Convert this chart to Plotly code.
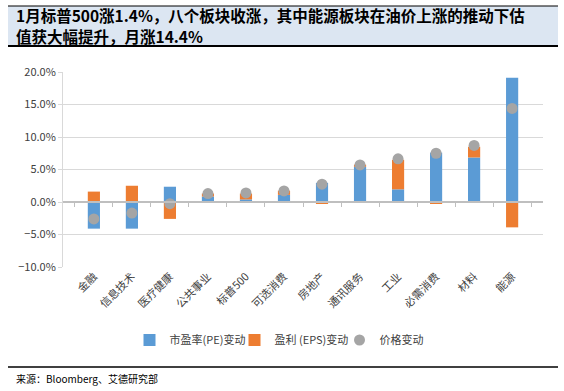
import plotly.graph_objects as go

categories = ["金融", "信息技术", "医疗健康", "公共事业", "标普500", "可选消费",
              "房地产", "通讯服务", "工业", "必需消费", "材料", "能源"]
pe_change = [-4.1, -4.1, 2.35, 0.85, 0.4, 1.1, 2.95, 5.4, 1.95, 7.6, 6.85, 19.1]
eps_change = [1.6, 2.5, -2.6, 0.45, 0.9, 0.65, -0.25, 0.35, 4.55, -0.25, 1.65, -3.9]
price_change = [-2.6, -1.7, -0.25, 1.3, 1.4, 1.7, 2.75, 5.7, 6.65, 7.5, 8.7, 14.4]

title_line1 = "1月标普500涨1.4%，八个板块收涨，其中能源板块在油价上涨的推动下估"
title_line2 = "值获大幅提升，月涨14.4%"
source_text = "来源：Bloomberg、艾德研究部"

BLUE = "#5B9BD5"
ORANGE = "#ED7D31"
GRAY = "#A5A5A5"
FONT = "Noto Sans CJK SC"

fig = go.Figure()
fig.add_trace(go.Bar(x=categories, y=pe_change, name="市盈率(PE)变动",
                     marker=dict(color=BLUE, line=dict(width=0)), width=0.32))
fig.add_trace(go.Bar(x=categories, y=eps_change, name="盈利 (EPS)变动",
                     marker=dict(color=ORANGE, line=dict(width=0)), width=0.32))
fig.add_trace(go.Scatter(x=categories, y=price_change, name="价格变动", mode="markers",
                         marker=dict(color=GRAY, size=11, line=dict(width=0))))
# helper trace for the category-boundary axis at zero
fig.add_trace(go.Scatter(x=categories, y=[None] * len(categories), xaxis="x2", yaxis="y",
                         showlegend=False, hoverinfo="skip", mode="markers"))

ymin, ymax = -10, 20
PH = 195.0  # plot height in px
PW = 480.0  # plot width in px
fig.update_layout(
    width=564, height=391,
    margin=dict(l=63, r=21, t=72, b=124, autoexpand=False),
    barmode="relative",
    plot_bgcolor="white", paper_bgcolor="white",
    font=dict(family=FONT, size=11, color="#404040"),
    showlegend=True,
    legend=dict(orientation="h", x=224/PW, xanchor="center", y=-73/PH, yanchor="middle",
                font=dict(size=11, color="#404040"), itemwidth=30, tracegroupgap=0,
                entrywidth=60, entrywidthmode="pixels",
                bgcolor="rgba(0,0,0,0)"),
    xaxis=dict(type="category", tickangle=-45, showline=False, ticks="",
               tickfont=dict(size=11, color="#404040"), showgrid=False),
    xaxis2=dict(type="category", overlaying="x", anchor="free",
                position=(0 - ymin) / (ymax - ymin), showline=True, linecolor="#BFBFBF",
                linewidth=1.5, ticks="outside", ticklen=4, tickcolor="#BFBFBF",
                tickson="boundaries", showticklabels=False, showgrid=False,
                matches="x"),
    yaxis=dict(range=[ymin, ymax], dtick=5, ticksuffix="%", tickformat=".1f",
               showline=True, linecolor="#D9D9D9", ticks="outside", ticklen=4,
               tickcolor="#D9D9D9", gridcolor="#D9D9D9", zeroline=False,
               tickfont=dict(size=11, color="#404040")),
)

# title band
fig.add_shape(type="rect", xref="paper", yref="paper",
              x0=-55/PW, x1=495/PW, y0=1 + 26/PH, y1=1 + 66/PH,
              fillcolor="#DCE6F2", line=dict(width=0), layer="below")
fig.add_shape(type="line", xref="paper", yref="paper",
              x0=-55/PW, x1=495/PW, y0=1 + 66/PH, y1=1 + 66/PH,
              line=dict(color="black", width=1))
fig.add_shape(type="line", xref="paper", yref="paper",
              x0=-55/PW, x1=495/PW, y0=1 + 26/PH, y1=1 + 26/PH,
              line=dict(color="black", width=2))
fig.add_annotation(text="<b>" + title_line1 + "</b>", xref="paper", yref="paper",
                   x=-49/PW, y=1 + 56.5/PH, xanchor="left", yanchor="middle",
                   showarrow=False, align="left",
                   font=dict(family=FONT, size=15.5, color="black"))
fig.add_annotation(text="<b>" + title_line2 + "</b>", xref="paper", yref="paper",
                   x=-49/PW, y=1 + 36.5/PH, xanchor="left", yanchor="middle",
                   showarrow=False, align="left",
                   font=dict(family=FONT, size=15.5, color="black"))

# source line and text
fig.add_shape(type="line", xref="paper", yref="paper",
              x0=-55/PW, x1=495/PW, y0=-100/PH, y1=-100/PH,
              line=dict(color="black", width=1.5))
fig.add_annotation(text=source_text, xref="paper", yref="paper",
                   x=-49/PW, y=-111/PH, xanchor="left", yanchor="middle",
                   showarrow=False, font=dict(family=FONT, size=10, color="black"))

fig.write_html("out.html", config={"displayModeBar": False},
               post_script="document.body.style.margin='0';document.body.style.overflow='hidden';")
